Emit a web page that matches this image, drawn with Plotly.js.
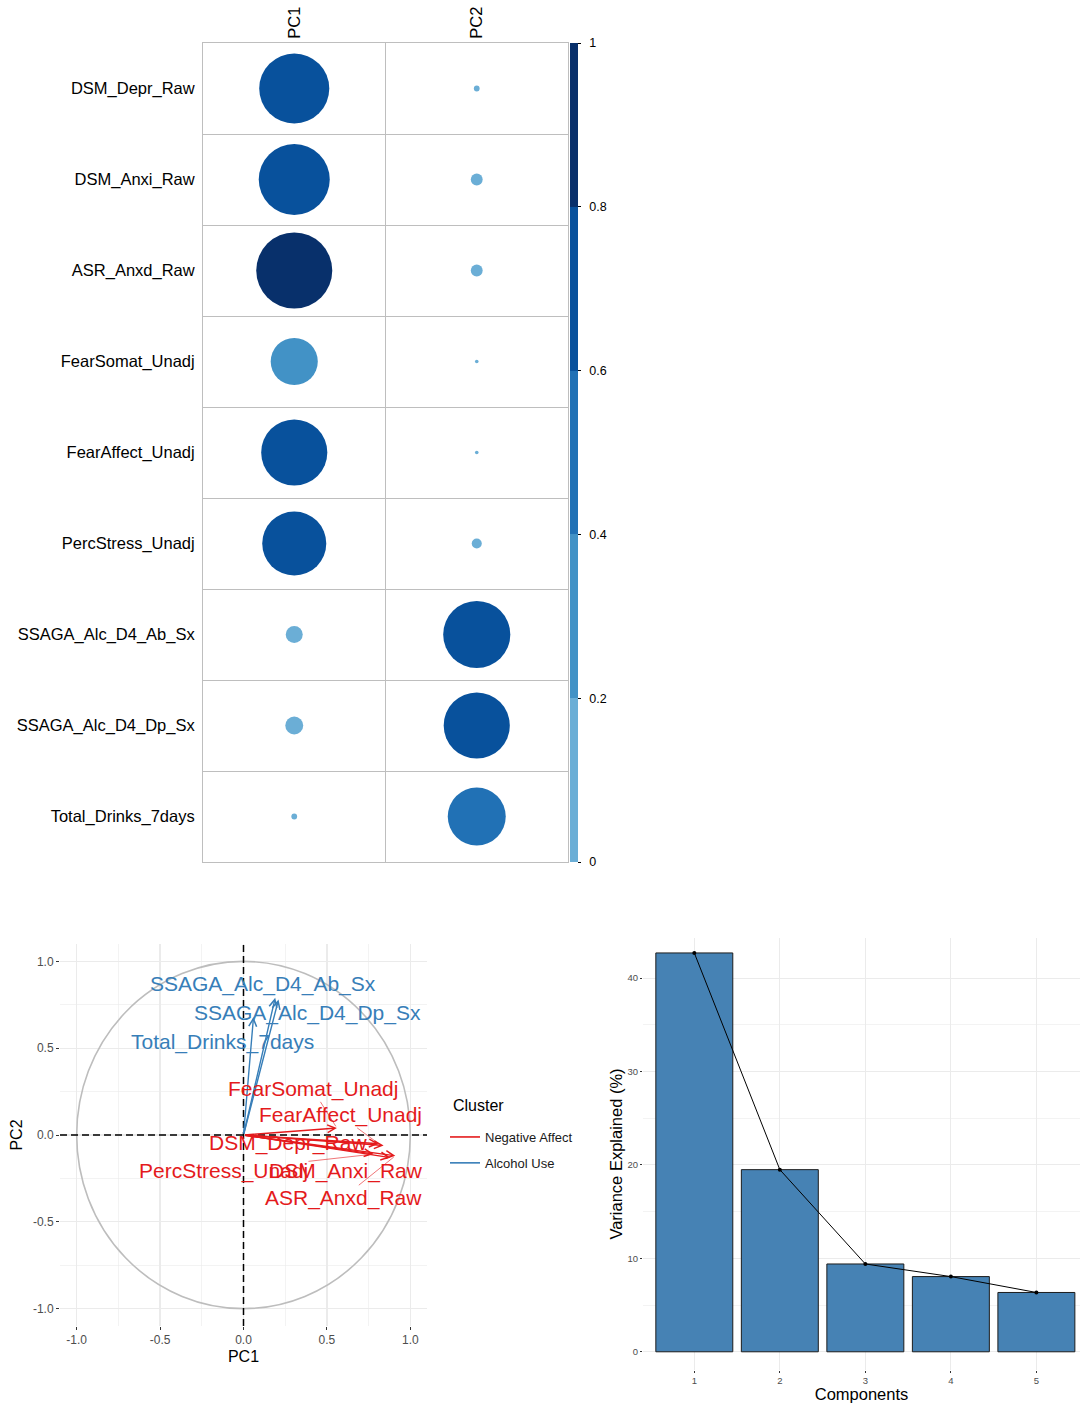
<!DOCTYPE html>
<html>
<head>
<meta charset="utf-8">
<script src="https://cdn.plot.ly/plotly-3.0.1.min.js"></script>
<style>html,body{margin:0;padding:0;background:#fff;}#chart{width:1080px;height:1403px;}</style>
</head>
<body>
<div id="chart"></div>
<script>
// ---------- DATA ----------
const rowNames = ['DSM_Depr_Raw','DSM_Anxi_Raw','ASR_Anxd_Raw','FearSomat_Unadj','FearAffect_Unadj','PercStress_Unadj','SSAGA_Alc_D4_Ab_Sx','SSAGA_Alc_D4_Dp_Sx','Total_Drinks_7days'];
const pcNames = ['PC1','PC2'];
const cos2PC1 = [0.73,0.75,0.86,0.33,0.65,0.61,0.043,0.048,0.005];
const cos2PC2 = [0.005,0.021,0.021,0.002,0.002,0.015,0.67,0.65,0.50];
const colorbarTickVals = [0,0.2,0.4,0.6,0.8,1];
const colorbarTickText = ['0','0.2','0.4','0.6','0.8','1'];

const coordPC1 = [0.84,0.88,0.91,0.56,0.81,0.78,0.19,0.21,0.06];
const coordPC2 = [-0.06,-0.13,-0.12,0.04,-0.05,-0.11,0.79,0.78,0.68];
const cluster = ['Negative Affect','Negative Affect','Negative Affect','Negative Affect','Negative Affect','Negative Affect','Alcohol Use','Alcohol Use','Alcohol Use'];
const clusterNames = ['Negative Affect','Alcohol Use'];
const legendTitle = 'Cluster';
const circleTickVals = [-1,-0.5,0,0.5,1];
const circleTickText = ['-1.0','-0.5','0.0','0.5','1.0'];

const components = [1,2,3,4,5];
const varianceExplained = [42.7,19.5,9.4,8.05,6.35];

// ---------- LAYOUT / STYLE ----------
const FONT = 'Liberation Sans, Arial, Helvetica, sans-serif';
const clusterColor = {'Negative Affect':'#E41A1C','Alcohol Use':'#377EB8'};
// label placement (repel-like) in circle-plot units
const labelX = [0.264,0.613,0.598,0.414,0.58,-0.12,0.114,0.384,-0.126];
const labelY = [-0.048,-0.206,-0.361,0.263,0.113,-0.206,0.869,0.700,0.537];
const repelSegment = [false,false,true,true,true,true,false,false,false];
const blues = ['#6baed6','#4292c6','#2171b5','#08519c','#08306b'];
const colorscale = [];
blues.forEach((c,i)=>{colorscale.push([i/5,c]);colorscale.push([(i+1)/5,c]);});
const maxDiam = 82;
const SP = '\u2002';

// corrplot trace
const cx=[], cy=[], cv=[];
rowNames.forEach((r,i)=>{
  cx.push('PC1'); cy.push(r); cv.push(cos2PC1[i]);
  cx.push('PC2'); cy.push(r); cv.push(cos2PC2[i]);
});
const traces = [];
traces.push({
  type:'scatter', mode:'markers', x:cx, y:cy, xaxis:'x', yaxis:'y',
  showlegend:false, hoverinfo:'skip',
  marker:{
    size: cv.map(v=>maxDiam*Math.sqrt(v)), sizemode:'diameter', opacity:1,
    color: cv, cmin:0, cmax:1, colorscale: colorscale, line:{width:0},
    colorbar:{
      x:570/1080, xanchor:'left', xref:'paper', xpad:0, ypad:0,
      y:1-452.5/1403, yanchor:'middle', len:819/1403, lenmode:'fraction',
      thickness:8, outlinewidth:0,
      tickvals: colorbarTickVals, ticktext: colorbarTickText.map(t=>SP+t),
      ticks:'outside', ticklen:3, tickcolor:'#000', tickwidth:1,
      tickfont:{family:FONT,size:12.5,color:'#000'}
    }
  }
});

// legend traces for cluster
clusterNames.forEach(c=>{
  traces.push({type:'scatter', mode:'lines', x:[null], y:[null], xaxis:'x2', yaxis:'y2',
    name:c, legendgroup:c, line:{color:clusterColor[c], width:1.6}, showlegend:true, hoverinfo:'skip'});
});

// scree plot
traces.push({
  type:'bar', x:components, y:varianceExplained, xaxis:'x3', yaxis:'y3', width:0.9,
  marker:{color:'#4682B4', line:{color:'#1c1c1c', width:1}}, showlegend:false, hoverinfo:'skip'
});
traces.push({
  type:'scatter', mode:'lines+markers', x:components, y:varianceExplained, xaxis:'x3', yaxis:'y3',
  line:{color:'#000', width:1}, marker:{color:'#000', size:4}, showlegend:false, hoverinfo:'skip'
});

const annotations = [];
// arrows
coordPC1.forEach((px,i)=>{
  annotations.push({
    xref:'x2', yref:'y2', axref:'x2', ayref:'y2',
    x:px, y:coordPC2[i], ax:0, ay:0, text:'', showarrow:true,
    arrowhead:5, arrowsize:1.1, arrowwidth:1.4, arrowcolor:clusterColor[cluster[i]],
    standoff:0, startstandoff:0
  });
});
// labels
rowNames.forEach((n,i)=>{
  const col = clusterColor[cluster[i]];
  if (repelSegment[i]) {
    annotations.push({
      xref:'x2', yref:'y2', axref:'x2', ayref:'y2',
      x:coordPC1[i], y:coordPC2[i], ax:labelX[i], ay:labelY[i],
      text:n, showarrow:true, arrowhead:0, arrowwidth:0.6, arrowcolor:col,
      font:{family:FONT,size:21,color:col}, borderpad:0, standoff:2
    });
  } else {
    annotations.push({
      xref:'x2', yref:'y2', x:labelX[i], y:labelY[i], text:n, showarrow:false,
      xanchor:'center', yanchor:'middle', font:{family:FONT,size:21,color:col}, borderpad:0
    });
  }
});
// legend title
annotations.push({
  xref:'paper', yref:'paper', x:451/1080, y:1-1105/1403, xanchor:'left', yanchor:'middle',
  text:legendTitle, showarrow:false, font:{family:FONT,size:16,color:'#000'}
});

const shapes = [
  {type:'circle', xref:'x2', yref:'y2', x0:-1, x1:1, y0:-1, y1:1, line:{color:'#bdbdbd', width:1.6}, layer:'above'},
  {type:'line', xref:'x2', yref:'y2 domain', x0:0, x1:0, y0:0, y1:1, line:{color:'#000', width:1.5, dash:'7px,4px'}, layer:'above'},
  {type:'line', xref:'x2 domain', yref:'y2', x0:0, x1:1, y0:0, y1:0, line:{color:'#000', width:1.5, dash:'7px,4px'}, layer:'above'}
];

const gridCol = '#ebebeb';
const tickFontGray = {family:FONT, size:12, color:'#4d4d4d'};

const layout = {
  width:1080, height:1403, margin:{l:0,r:0,t:0,b:0},
  paper_bgcolor:'#fff', plot_bgcolor:'rgba(0,0,0,0)',
  font:{family:FONT},
  showlegend:true,
  legend:{
    x:445/1080, y:1-1122/1403, xanchor:'left', yanchor:'top',
    font:{family:FONT,size:13,color:'#1a1a1a'}, itemwidth:30, tracegroupgap:6,
    bgcolor:'rgba(0,0,0,0)'
  },
  xaxis:{
    domain:[203/1080,568/1080], anchor:'y', type:'category', categoryarray:pcNames, categoryorder:'array',
    range:[-0.5,1.5], side:'top', tickangle:-90, ticks:'', tickson:'boundaries',
    showgrid:true, gridcolor:'#bebebe', gridwidth:1, showline:true, mirror:true, linecolor:'#bebebe', linewidth:1,
    zeroline:false, tickfont:{family:FONT,size:16.5,color:'#000'}, fixedrange:true
  },
  yaxis:{
    domain:[1-862/1403,1-43/1403], anchor:'x', type:'category', categoryarray:rowNames, categoryorder:'array',
    range:[8.5,-0.5], ticks:'', tickson:'boundaries',
    showgrid:true, gridcolor:'#bebebe', gridwidth:1, showline:true, mirror:true, linecolor:'#bebebe', linewidth:1,
    zeroline:false, tickfont:{family:FONT,size:16.5,color:'#000'}, fixedrange:true, ticklabelstandoff:4
  },
  xaxis2:{
    domain:[60/1080,427/1080], anchor:'y2', range:[-1.1,1.1],
    tickvals:circleTickVals, ticktext:circleTickText, ticks:'outside', ticklen:3, tickcolor:'#333',
    showgrid:true, gridcolor:gridCol, gridwidth:1.2, zeroline:false, showline:false,
    minor:{dtick:0.25, tick0:0, showgrid:true, gridcolor:gridCol, gridwidth:0.6, ticks:''},
    tickfont:tickFontGray,
    title:{text:'PC1', font:{family:FONT,size:16,color:'#000'}, standoff:4}
  },
  yaxis2:{
    domain:[1-1326/1403,1-944/1403], anchor:'x2', range:[-1.1,1.1],
    tickvals:circleTickVals, ticktext:circleTickText, ticks:'outside', ticklen:3, tickcolor:'#333',
    showgrid:true, gridcolor:gridCol, gridwidth:1.2, zeroline:false, showline:false,
    minor:{dtick:0.25, tick0:0, showgrid:true, gridcolor:gridCol, gridwidth:0.6, ticks:''},
    tickfont:tickFontGray,
    title:{text:'PC2', font:{family:FONT,size:16,color:'#000'}, standoff:6}
  },
  xaxis3:{
    domain:[643/1080,1], anchor:'y3', range:[0.4,5.51],
    tickvals:components, ticks:'outside', ticklen:2, tickcolor:'#333',
    showgrid:true, gridcolor:gridCol, gridwidth:1, zeroline:false, showline:false,
    tickfont:{family:FONT,size:9.5,color:'#4d4d4d'},
    title:{text:'Components', font:{family:FONT,size:16.5,color:'#000'}, standoff:1}
  },
  yaxis3:{
    domain:[1-1370/1403,1-938/1403], anchor:'x3', range:[-1.95,44.3],
    dtick:10, tick0:0, ticks:'outside', ticklen:2, tickcolor:'#333',
    showgrid:true, gridcolor:gridCol, gridwidth:1, zeroline:false, showline:false,
    minor:{dtick:5, tick0:0, showgrid:true, gridcolor:gridCol, gridwidth:0.6, ticks:''},
    tickfont:{family:FONT,size:9.5,color:'#4d4d4d'},
    title:{text:'Variance Explained (%)', font:{family:FONT,size:16.5,color:'#000'}, standoff:0}
  },
  annotations: annotations,
  shapes: shapes
};

Plotly.newPlot('chart', traces, layout, {staticPlot:true, displayModeBar:false});
</script>
</body>
</html>
